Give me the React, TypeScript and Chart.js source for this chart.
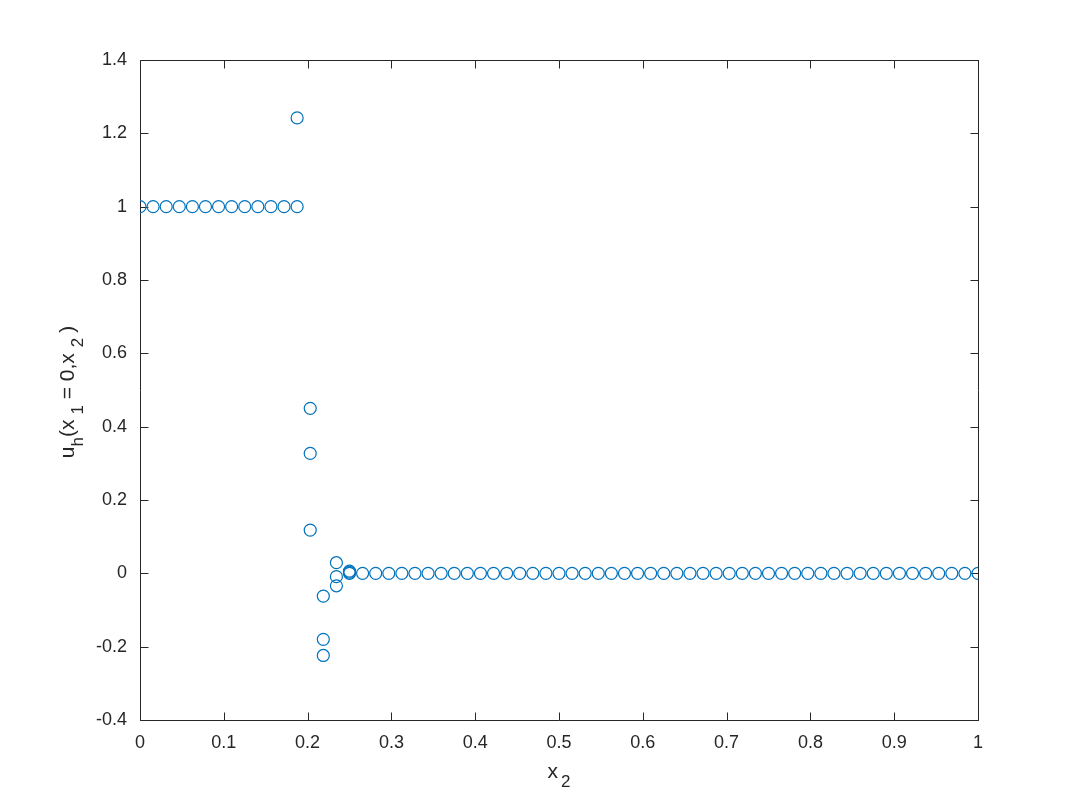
import React, { useEffect, useRef } from "react";
import { Chart, registerables } from "chart.js";

Chart.register(...registerables);

// Mesh nodes along x_2 (uniform mesh, h = 1/64)
const xNodes: number[] = [
  0, 1 / 64, 2 / 64, 3 / 64, 4 / 64, 5 / 64, 6 / 64, 7 / 64, 8 / 64, 9 / 64,
  10 / 64, 11 / 64, 12 / 64, 13 / 64, 14 / 64, 15 / 64, 16 / 64, 17 / 64, 18 / 64, 19 / 64,
  20 / 64, 21 / 64, 22 / 64, 23 / 64, 24 / 64, 25 / 64, 26 / 64, 27 / 64, 28 / 64, 29 / 64,
  30 / 64, 31 / 64, 32 / 64, 33 / 64, 34 / 64, 35 / 64, 36 / 64, 37 / 64, 38 / 64, 39 / 64,
  40 / 64, 41 / 64, 42 / 64, 43 / 64, 44 / 64, 45 / 64, 46 / 64, 47 / 64, 48 / 64, 49 / 64,
  50 / 64, 51 / 64, 52 / 64, 53 / 64, 54 / 64, 55 / 64, 56 / 64, 57 / 64, 58 / 64, 59 / 64,
  60 / 64, 61 / 64, 62 / 64, 63 / 64, 1,
];

// u_h values at the nodes
const uNodes: number[] = [
  1, 1, 1, 1, 1, 1, 1, 1, 1, 1,
  1, 1, 1, 0.45, -0.062, 0.029, 0.006, 0, 0, 0,
  0, 0, 0, 0, 0, 0, 0, 0, 0, 0,
  0, 0, 0, 0, 0, 0, 0, 0, 0, 0,
  0, 0, 0, 0, 0, 0, 0, 0, 0, 0,
  0, 0, 0, 0, 0, 0, 0, 0, 0, 0,
  0, 0, 0, 0, 0,
];

// additional (discontinuous) values at shared nodes
const xExtra: number[] = [12 / 64, 13 / 64, 13 / 64, 14 / 64, 14 / 64, 15 / 64, 15 / 64, 16 / 64, 16 / 64];
const uExtra: number[] = [1.242, 0.327, 0.118, -0.18, -0.224, -0.009, -0.034, 0.003, 0.0];

const xTicks: number[] = [0, 0.1, 0.2, 0.3, 0.4, 0.5, 0.6, 0.7, 0.8, 0.9, 1];
const yTicks: number[] = [-0.4, -0.2, 0, 0.2, 0.4, 0.6, 0.8, 1, 1.2, 1.4];

const AXIS_COLOR = "#262626";
const FONT = "'Liberation Sans', Arial, Helvetica, sans-serif";
const MARKER = "#0072BD";

type Seg = { t: string; sub?: boolean; gap?: number };

function drawRich(ctx: CanvasRenderingContext2D, segs: Seg[], size: number, subSize: number, subShift: number) {
  const widths = segs.map((s) => {
    ctx.font = `${s.sub ? subSize : size}px ${FONT}`;
    return ctx.measureText(s.t).width + (s.gap || 0);
  });
  const total = widths.reduce((a, b) => a + b, 0);
  let x = -total / 2;
  segs.forEach((s, i) => {
    ctx.font = `${s.sub ? subSize : size}px ${FONT}`;
    ctx.fillText(s.t, x + (s.gap || 0), s.sub ? subShift : 0);
    x += widths[i];
  });
}

const framePlugin = {
  id: "matlabFrame",
  beforeDatasetsDraw(chart: any) {
    const { ctx, chartArea: a, scales } = chart;
    ctx.save();
    ctx.strokeStyle = AXIS_COLOR;
    ctx.lineWidth = 1;
    const L = Math.round(a.left) + 0.5;
    const R = Math.round(a.right) + 0.5;
    const T = Math.round(a.top) + 0.5;
    const B = Math.round(a.bottom) + 0.5;
    ctx.beginPath();
    ctx.rect(L, T, R - L, B - T);
    const tl = 8;
    xTicks.forEach((v) => {
      const px = Math.round(scales.x.getPixelForValue(v)) + 0.5;
      ctx.moveTo(px, B);
      ctx.lineTo(px, B - tl);
      ctx.moveTo(px, T);
      ctx.lineTo(px, T + tl);
    });
    yTicks.forEach((v) => {
      const py = Math.round(scales.y.getPixelForValue(v)) + 0.5;
      ctx.moveTo(L, py);
      ctx.lineTo(L + tl, py);
      ctx.moveTo(R, py);
      ctx.lineTo(R - tl, py);
    });
    ctx.stroke();
    ctx.restore();
  },
  afterDraw(chart: any) {
    const { ctx, chartArea: a } = chart;
    ctx.save();
    ctx.fillStyle = AXIS_COLOR;
    ctx.textBaseline = "alphabetic";
    ctx.textAlign = "left";
    // x label
    ctx.save();
    ctx.translate((a.left + a.right) / 2, 778);
    drawRich(ctx, [{ t: "x" }, { t: "2", sub: true, gap: 3 }], 21, 17, 9);
    ctx.restore();
    // y label
    ctx.save();
    ctx.translate(74, (a.top + a.bottom) / 2 + 2);
    ctx.rotate(-Math.PI / 2);
    drawRich(
      ctx,
      [
        { t: "u" },
        { t: "h", sub: true },
        { t: "(x" },
        { t: "1", sub: true, gap: 5 },
        { t: " = 0,x" },
        { t: "2", sub: true, gap: 6 },
        { t: ")", gap: 5 },
      ],
      21,
      17,
      9
    );
    ctx.restore();
    ctx.restore();
  },
};

function fmt(v: number): string {
  return String(Number(v.toFixed(2)));
}

export default function App() {
  const ref = useRef<HTMLCanvasElement | null>(null);

  useEffect(() => {
    document.body.style.margin = "0";
    const canvas = ref.current;
    if (!canvas) return;
    const pts = xNodes.map((x, i) => ({ x, y: uNodes[i] }));
    xExtra.forEach((x, i) => pts.push({ x, y: uExtra[i] }));

    const chart = new Chart(canvas, {
      type: "scatter",
      data: {
        datasets: [
          {
            data: pts,
            pointStyle: "circle",
            pointRadius: 6,
            pointHoverRadius: 6,
            borderWidth: 1.2,
            borderColor: MARKER,
            backgroundColor: "rgba(0,0,0,0)",
            showLine: false,
          },
        ],
      },
      options: {
        animation: false,
        responsive: false,
        devicePixelRatio: 1,
        events: [],
        layout: { padding: { left: 0, top: 60, right: 102, bottom: 0 } },
        plugins: {
          legend: { display: false },
          tooltip: { enabled: false },
          title: { display: false },
        },
        scales: {
          x: {
            type: "linear",
            min: 0,
            max: 1,
            afterFit: (s: any) => {
              s.height = 90;
            },
            afterBuildTicks: (s: any) => {
              s.ticks = xTicks.map((v) => ({ value: v }));
            },
            grid: { display: false, drawTicks: false },
            border: { display: false },
            ticks: {
              padding: 12,
              color: AXIS_COLOR,
              font: { family: FONT, size: 18 },
              maxRotation: 0,
              autoSkip: false,
              callback: (v: any) => fmt(Number(v)),
            },
          },
          y: {
            type: "linear",
            min: -0.4,
            max: 1.4,
            afterFit: (s: any) => {
              s.width = 140;
            },
            afterBuildTicks: (s: any) => {
              s.ticks = yTicks.map((v) => ({ value: v }));
            },
            grid: { display: false, drawTicks: false },
            border: { display: false },
            ticks: {
              padding: 13,
              color: AXIS_COLOR,
              font: { family: FONT, size: 18 },
              autoSkip: false,
              callback: (v: any) => fmt(Number(v)),
            },
          },
        },
      },
      plugins: [framePlugin],
    });
    return () => chart.destroy();
  }, []);

  return (
    <div style={{ width: 1080, height: 810, background: "#ffffff" }}>
      <canvas ref={ref} width={1080} height={810} style={{ display: "block" }} />
    </div>
  );
}
